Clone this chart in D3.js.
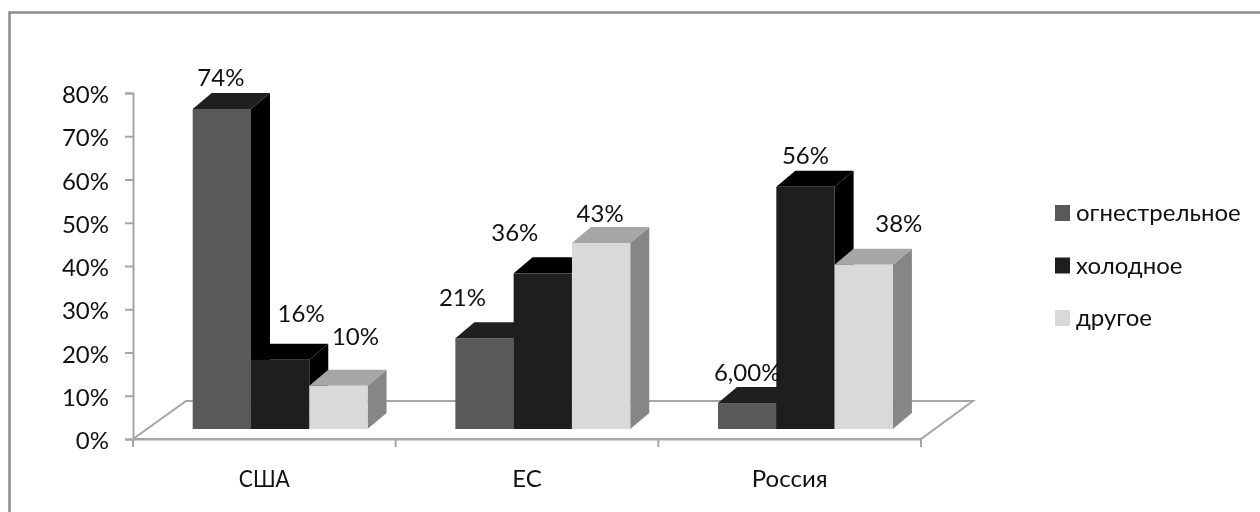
<!DOCTYPE html>
<html>
<head>
<meta charset="utf-8">
<script src="https://d3js.org/d3.v7.min.js"></script>
<style>
	html, body { margin: 0; padding: 0; background: #fff; }
	svg { display: block; filter: blur(0.4px); }
	text { font-family: Lato, "Open Sans", sans-serif; fill: #111; }
</style>
</head>
<body>
<script type="text/javascript">

	var categories = ["США", "ЕС", "Россия"];
	var seriesNames = ["огнестрельное", "холодное", "другое"];
	var firearm = [74, 21, 6];
	var cold = [16, 36, 56];
	var other = [10, 43, 38];
	var valueLabels = [["74%", "21%", "6,00%"], ["16%", "36%", "56%"], ["10%", "43%", "38%"]];
	var tickValues = [0, 10, 20, 30, 40, 50, 60, 70, 80];

	var series = [firearm, cold, other];

	// front, top, side of each series
	var faces = [
		{ front: "#595959", top: "#1f1f1f", side: "#000000" },
		{ front: "#1e1e1e", top: "#000000", side: "#000000" },
		{ front: "#d9d9d9", top: "#a6a6a6", side: "#868686" }
	];

	// hand placed data labels, offset from the middle of the bar top [series][category]
	var labelShift = [
		[[-1, -23], [-22, -32], [0, -22]],
		[[21, -38], [-28, -32], [0, -23]],
		[[17, -41], [-1, -21], [35, -33]]
	];

	var w = 1260, h = 512;
	var svg = d3.select("body").append("svg").attr("width", w).attr("height", h);

	var x0 = 133, y0 = 439;
	var floorDx = 53, floorDy = -38;    // depth of the floor
	var barDx = 19, barDy = -16;        // depth of a bar
	var barLift = 10;                   // bars stand a bit back on the floor
	var barShift = 15.8;

	var xScale = d3.scaleBand().domain(categories).range([x0, 921]);
	var seriesScale = d3.scaleBand().domain(d3.range(3)).range([0, xScale.bandwidth()]).paddingOuter(0.753).paddingInner(0);
	var yScale = d3.scaleLinear().domain([0, 80]).range([y0, 93]);

	// frame, only the top and left edges show
	var line = d3.line();
	svg.append("path")
		.attr("d", line([[9.5, h], [9.5, 12.5], [w, 12.5]]))
		.attr("fill", "none").attr("stroke", "#8c8c8c").attr("stroke-width", 2.5);

	// floor
	svg.append("path")
		.attr("d", line([[x0, y0], [x0 + floorDx, y0 + floorDy], [921 + floorDx - 1, y0 + floorDy], [921, y0], [x0, y0]]))
		.attr("fill", "none").attr("stroke", "#a6a6a6").attr("stroke-width", 2);

	// axes
	var yAxis = d3.axisLeft(yScale).tickValues(tickValues).tickSize(8).tickPadding(16).tickFormat(function(d) { return d + "%"; });
	var gy = svg.append("g").attr("transform", "translate(" + x0 + ",0)").call(yAxis);
	var xAxis = d3.axisBottom(xScale).tickSize(0).tickPadding(31);
	var gx = svg.append("g").attr("transform", "translate(0," + y0 + ")").call(xAxis);
	gx.selectAll("line.sep")
		.data(d3.range(categories.length + 1))
		.enter()
		.append("line")
		.attr("class", "sep")
		.attr("x1", function(d) { return x0 + d * xScale.step(); })
		.attr("x2", function(d) { return x0 + d * xScale.step(); })
		.attr("y1", 0).attr("y2", 8);
	[gx, gy].forEach(function(g) {
		g.selectAll(".domain, .tick line, line.sep").attr("stroke", "#a6a6a6").attr("stroke-width", 2);
		g.selectAll("text").style("font-size", "24px").attr("font-family", null);
	});
	gy.selectAll("text").attr("dy", "0.4em");
	// the capitals run wide in this font
	gx.selectAll(".tick text").filter(function(d) { return d === "США"; })
		.attr("textLength", 51).attr("lengthAdjust", "spacingAndGlyphs");

	// bars, back to front in series order
	var bars = svg.append("g");
	series.forEach(function(values, s) {
		values.forEach(function(v, c) {
			var left = xScale(categories[c]) + seriesScale(s) + barShift;
			var right = left + seriesScale.bandwidth();
			var bottom = y0 - barLift;
			var top = bottom - (y0 - yScale(v));
			var g = bars.append("g");
			g.append("path")
				.attr("d", line([[right, top], [right + barDx, top + barDy], [right + barDx, bottom + barDy], [right, bottom]]) + "Z")
				.attr("fill", faces[s].side);
			g.append("path")
				.attr("d", line([[left, top], [left + barDx, top + barDy], [right + barDx, top + barDy], [right, top]]) + "Z")
				.attr("fill", faces[s].top);
			g.append("rect")
				.attr("x", left).attr("y", top)
				.attr("width", right - left).attr("height", bottom - top)
				.attr("fill", faces[s].front);
		});
	});

	// data labels
	series.forEach(function(values, s) {
		values.forEach(function(v, c) {
			var left = xScale(categories[c]) + seriesScale(s) + barShift;
			var top = y0 - barLift - (y0 - yScale(v));
			svg.append("text")
				.attr("x", left + seriesScale.bandwidth() / 2 + labelShift[s][c][0])
				.attr("y", top + labelShift[s][c][1])
				.attr("text-anchor", "middle")
				.style("font-size", "24px")
				.text(valueLabels[s][c]);
		});
	});

	// legend
	var legend = svg.selectAll("g.legend")
		.data(seriesNames)
		.enter()
		.append("g")
		.attr("class", "legend")
		.attr("transform", function(d, i) { return "translate(1055," + (205 + i * 52.5) + ")"; });
	legend.append("rect")
		.attr("width", 15).attr("height", 16)
		.attr("fill", function(d, i) { return faces[i].front; });
	legend.append("text")
		.attr("x", 21).attr("y", 16)
		.style("font-size", "24px")
		.text(function(d) { return d; });

</script>
</body>
</html>
